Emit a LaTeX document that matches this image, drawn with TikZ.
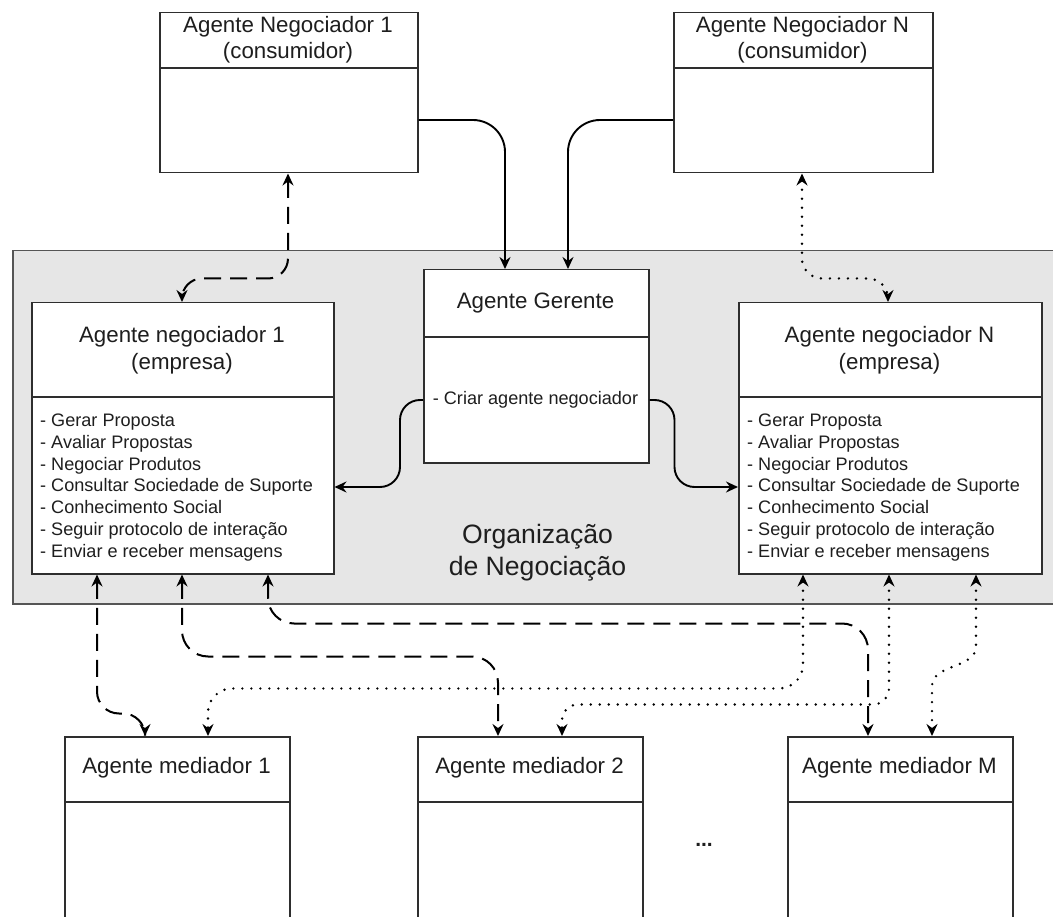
\documentclass[tikz,border=0pt]{standalone}
\usepackage{fontspec}
\setmainfont{Liberation Sans}
\usetikzlibrary{arrows.meta,calc}
\definecolor{linecol}{HTML}{2E2E2E}
\definecolor{orgline}{HTML}{555555}
\definecolor{orgfill}{HTML}{E6E6E6}
\definecolor{txtcol}{HTML}{1E1E1E}
\begin{document}
\begin{tikzpicture}[x=1pt,y=-1pt,
  box/.style={draw=linecol, line width=1.5pt, fill=white, inner sep=0pt, anchor=north west},
  divider/.style={draw=linecol, line width=1.5pt},
  ttl/.style={text=txtcol, font=\fontsize{22.3}{26}\selectfont, anchor=base, inner sep=0pt},
  items/.style={text=txtcol, font=\fontsize{18.1}{21.7}\selectfont, align=left, anchor=north west, inner sep=0pt},
  conn/.style={line width=1.9pt, draw=black, rounded corners=22pt},
  solidarrow/.style={conn, -{Stealth[length=12pt,width=11pt,inset=4pt]}},
  dasharrow/.style={conn, line width=2pt, dash pattern=on 17pt off 9pt,
    {Stealth[length=12pt,width=11pt,inset=4pt]}-{Stealth[length=12pt,width=11pt,inset=4pt]}},
  dotarrow/.style={conn, line width=2.7pt, line cap=round, dash pattern=on 0pt off 9pt,
    {Stealth[length=12pt,width=11pt,inset=4pt]}-{Stealth[length=12pt,width=11pt,inset=4pt]}}
]
\useasboundingbox (0,0) rectangle (1053,917);
\clip (0,0) rectangle (1053,917);
\fill[white] (0,0) rectangle (1053,917);

% negotiation organisation (runs past the right edge)
\node[draw=orgline, fill=orgfill, line width=1.5pt, inner sep=0pt, anchor=north west,
      minimum width=1060pt, minimum height=353pt] (org) at (12,250) {};
\node[text=txtcol, font=\fontsize{26.6}{32}\selectfont, anchor=base, inner sep=0pt] (orgt1) at (537.5,543) {Organização};
\node[text=txtcol, font=\fontsize{26.6}{32}\selectfont, anchor=base, inner sep=0pt] (orgt2) at (537.5,575) {de Negociação};

% consumer negotiators
\node[box, minimum width=258pt, minimum height=160pt] (cons1) at (159,12) {};
\draw[divider] ($(cons1.north west)+(0,56)$) -- ($(cons1.north east)+(0,56)$);
\node[ttl] (cons1a) at (288,33) {Agente Negociador 1};
\node[ttl] (cons1b) at (288,59) {(consumidor)};

\node[box, minimum width=259pt, minimum height=160pt] (consN) at (673,12) {};
\draw[divider] ($(consN.north west)+(0,56)$) -- ($(consN.north east)+(0,56)$);
\node[ttl] (consNa) at (802.5,33) {Agente Negociador N};
\node[ttl] (consNb) at (802.5,59) {(consumidor)};

% manager agent
\node[box, minimum width=225pt, minimum height=193pt] (ger) at (423,269) {};
\draw[divider] ($(ger.north west)+(0,68)$) -- ($(ger.north east)+(0,68)$);
\node[ttl] (gert) at (535.5,309) {Agente Gerente};
\node[text=txtcol, font=\fontsize{18.1}{21.7}\selectfont, anchor=base, inner sep=0pt] (geri) at (535.5,405) {- Criar agente negociador};

% company negotiators
\node[box, minimum width=302pt, minimum height=271pt] (neg1) at (31,302) {};
\draw[divider] ($(neg1.north west)+(0,95)$) -- ($(neg1.north east)+(0,95)$);
\node[ttl] (neg1a) at (182,343) {Agente negociador 1};
\node[ttl] (neg1b) at (182,370) {(empresa)};
\node[items] (neg1i) at (40,414) {- Gerar Proposta\\- Avaliar Propostas\\- Negociar Produtos\\- Consultar Sociedade de Suporte\\- Conhecimento Social\\- Seguir protocolo de interação\\- Enviar e receber mensagens};

\node[box, minimum width=303pt, minimum height=271pt] (negN) at (738,302) {};
\draw[divider] ($(negN.north west)+(0,95)$) -- ($(negN.north east)+(0,95)$);
\node[ttl] (negNa) at (889.5,343) {Agente negociador N};
\node[ttl] (negNb) at (889.5,370) {(empresa)};
\node[items] (negNi) at (747,414) {- Gerar Proposta\\- Avaliar Propostas\\- Negociar Produtos\\- Consultar Sociedade de Suporte\\- Conhecimento Social\\- Seguir protocolo de interação\\- Enviar e receber mensagens};

% mediators (continue below the lower edge)
\node[box, minimum width=225pt, minimum height=200pt] (med1) at (64,736) {};
\draw[divider] ($(med1.north west)+(0,66)$) -- ($(med1.north east)+(0,66)$);
\node[ttl] (med1t) at (176.5,773) {Agente mediador 1};

\node[box, minimum width=225pt, minimum height=200pt] (med2) at (417,736) {};
\draw[divider] ($(med2.north west)+(0,66)$) -- ($(med2.north east)+(0,66)$);
\node[ttl] (med2t) at (529.5,773) {Agente mediador 2};

\node[box, minimum width=225pt, minimum height=200pt] (medM) at (787,736) {};
\draw[divider] ($(medM.north west)+(0,66)$) -- ($(medM.north east)+(0,66)$);
\node[ttl] (medMt) at (899.5,773) {Agente mediador M};

\node[text=txtcol, font=\fontsize{21}{24}\selectfont\bfseries, inner sep=0pt] (dots) at (704,845) {...};

% consumers report to the manager
\draw[solidarrow, rounded corners=32pt] ($(cons1.north east)+(0,108)$) -| ($(ger.north west)+(82,0)$);
\draw[solidarrow, rounded corners=32pt] ($(consN.north west)+(0,108)$) -| ($(ger.north west)+(145,0)$);

% manager creates the company negotiators
\draw[solidarrow, rounded corners=20pt] ($(ger.north west)+(0,131)$) -- ++(-23,0) |- ($(neg1.north east)+(0,185)$);
\draw[solidarrow, rounded corners=20pt] ($(ger.north east)+(0,131)$) -- ++(25,0) |- ($(negN.north west)+(0,185)$);

% consumer <-> company negotiator
\draw[dasharrow, rounded corners=20pt] ($(cons1.south west)+(129,0)$) -- ++(0,105) -| ($(neg1.north west)+(151,0)$);
\draw[dotarrow, rounded corners=20pt] ($(consN.south west)+(129,0)$) -- ++(0,105) -| ($(negN.north west)+(150,0)$);

% company negotiators <-> mediators
\draw[dasharrow] ($(neg1.south west)+(66,0)$) -- ++(0,139) -| ($(med1.north west)+(81,0)$);
\draw[dasharrow, rounded corners=26pt] ($(neg1.south west)+(151,0)$) -- ++(0,82) -| ($(med2.north west)+(81,0)$);
\draw[dasharrow, rounded corners=26pt] ($(neg1.south west)+(237,0)$) -- ++(0,49) -| ($(medM.north west)+(81,0)$);
\draw[dotarrow, rounded corners=24pt] ($(negN.south west)+(65,0)$) -- ++(0,114) -| ($(med1.north west)+(144,0)$);
\draw[dotarrow, rounded corners=16pt] ($(negN.south west)+(151,0)$) -- ++(0,130) -| ($(med2.north west)+(145,0)$);
\draw[dotarrow, rounded corners=0pt] ($(negN.south west)+(238,0)$) -- ++(0,72)
  .. controls +(0,22) and +(0,-22) .. ($(medM.north west)+(145,-50)$) -- ($(medM.north west)+(145,0)$);
\end{tikzpicture}
\end{document}
